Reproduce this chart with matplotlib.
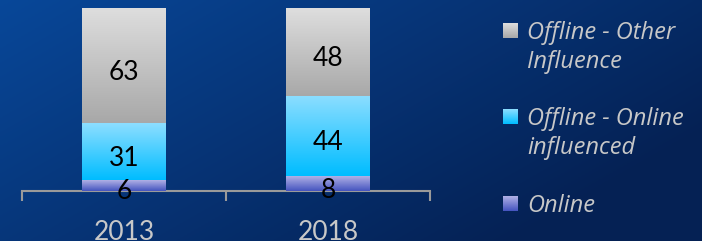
import numpy as np
import matplotlib.pyplot as plt
from matplotlib.colors import LinearSegmentedColormap

# data
years = ["2013", "2018"]
online = [6, 8]
offline_online = [31, 44]
offline_other = [63, 48]
series_names = ["Online", "Offline - Online\ninfluenced", "Offline - Other\nInfluence"]

# gradients (top colour, bottom colour) per series
grads = [((0.69, 0.69, 0.90), (0.27, 0.33, 0.75)),
         ((0.55, 0.87, 1.00), (0.00, 0.74, 1.00)),
         ((0.87, 0.87, 0.87), (0.66, 0.66, 0.66))]

W, H = 702, 241
fig = plt.figure(figsize=(W / 100, H / 100), dpi=100)

# background
bg = fig.add_axes([0, 0, 1, 1])
yy, xx = np.mgrid[0:1:120j, 0:1:300j]
t = np.clip(0.75 * xx + 0.45 * yy, 0, 1)
c0 = np.array([0.03, 0.28, 0.60])
c1 = np.array([0.02, 0.13, 0.33])
img = c0[None, None, :] * (1 - t[..., None]) + c1[None, None, :] * t[..., None]
bg.imshow(img, aspect="auto", extent=[0, 1, 0, 1], origin="upper")
bg.axis("off")

ax = fig.add_axes([22 / W, (H - 191) / H, 408 / W, 183 / H])
ax.patch.set_alpha(0)
x = np.arange(len(years))
bottoms = np.zeros(len(years))
for vals, (ctop, cbot) in zip([online, offline_online, offline_other], grads):
    bars = ax.bar(x, vals, width=0.41, bottom=bottoms, color=cbot, linewidth=0, zorder=2)
    cmap = LinearSegmentedColormap.from_list("g", [cbot, ctop])
    grad = np.linspace(0, 1, 100).reshape(-1, 1)
    for b, v, bt in zip(bars, vals, bottoms):
        im = ax.imshow(grad, cmap=cmap, aspect="auto", origin="lower",
                       extent=[b.get_x(), b.get_x() + b.get_width(), bt, bt + v], zorder=3)
        im.set_clip_path(b)
        ax.text(b.get_x() + b.get_width() / 2, bt + v / 2 - 3.5, str(v), ha="center", va="center",
                fontsize=19, color="black", family="Lato", zorder=4)
    bottoms = bottoms + np.array(vals)

ax.set_xlim(-0.5, 1.5)
ax.set_ylim(0, 100)
for s in ["top", "right", "left"]:
    ax.spines[s].set_visible(False)
ax.spines["bottom"].set_color("#9a9a9a")
ax.spines["bottom"].set_linewidth(1.5)
ax.set_yticks([])
ax.set_xticks([-0.5, 0.5, 1.5])
ax.set_xticklabels([])
ax.tick_params(axis="x", which="major", direction="out", length=7, width=1.5, color="#9a9a9a")
ax.set_xticks(x, minor=True)
ax.set_xticklabels(years, minor=True)
ax.tick_params(axis="x", which="minor", length=0, pad=21, labelsize=19, labelcolor="#c8c8c8")
for lbl in ax.get_xticklabels(minor=True):
    lbl.set_family("Lato")

# legend drawn by hand
leg_y_pos = {2: 23, 1: 109, 0: 196}
for i in [2, 1, 0]:
    ctop, cbot = grads[i]
    top = leg_y_pos[i]
    la = fig.add_axes([503 / W, 1 - (top + 15) / H, 15 / W, 15 / H])
    cmap = LinearSegmentedColormap.from_list("g", [cbot, ctop])
    la.imshow(np.linspace(0, 1, 50).reshape(-1, 1), cmap=cmap, aspect="auto", origin="lower")
    la.axis("off")
    fig.text(527 / W, 1 - (top - 2) / H, series_names[i], ha="left", va="top",
             fontsize=17, style="italic", color="#c8c8c8", family="Open Sans", linespacing=1.3)

fig.savefig("out.png", dpi=100)
